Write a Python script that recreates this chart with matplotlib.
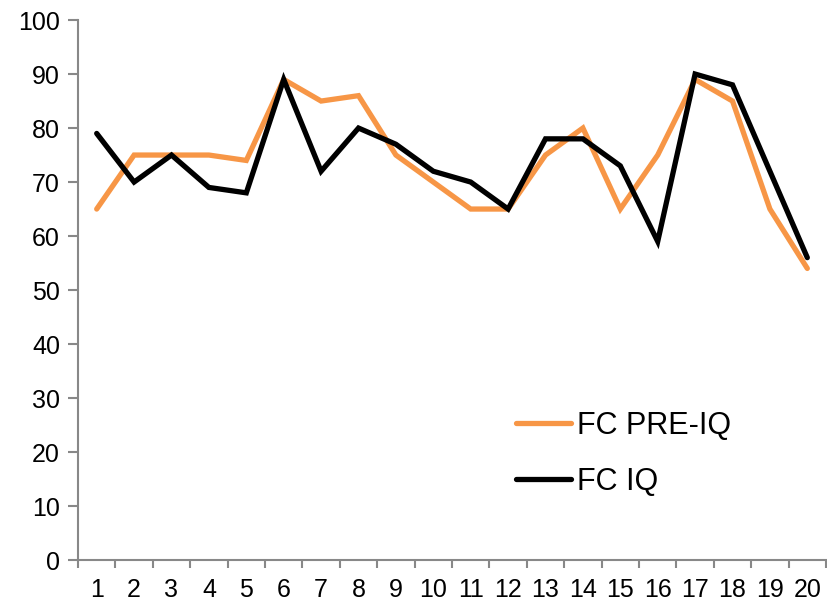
import matplotlib.pyplot as plt
import numpy as np

plt.rcParams['font.family'] = ['Liberation Sans', 'DejaVu Sans']

samples = list(range(1, 21))
fc_pre_iq = [65, 75, 75, 75, 74, 89, 85, 86, 75, 70, 65, 65, 75, 80, 65, 75, 89, 85, 65, 54]
fc_iq = [79, 70, 75, 69, 68, 89, 72, 80, 77, 72, 70, 65, 78, 78, 73, 59, 90, 88, 72, 56]

fig = plt.figure(figsize=(8.28, 6.04), dpi=100)
ax = fig.add_axes([0.0942, 0.0728, 0.9034, 0.894])

ax.plot(samples, fc_pre_iq, color='#F79646', lw=3.8, label='FC PRE-IQ',
        solid_joinstyle='miter', solid_capstyle='round')
ax.plot(samples, fc_iq, color='black', lw=3.8, label='FC IQ',
        solid_joinstyle='miter', solid_capstyle='round')

ax.set_xlim(0.5, 20.5)
ax.set_ylim(0, 100)
ax.set_yticks(np.arange(0, 101, 10))
ax.set_xticks(samples)
ax.set_xticks(np.arange(0.5, 20.6, 1), minor=True)
ax.tick_params(axis='x', which='major', length=0, labelsize=18, pad=13)
ax.tick_params(axis='x', which='minor', length=6, width=1.5, color='#888888')
ax.tick_params(axis='y', length=7, width=1.5, color='#888888', labelsize=18, pad=6)

for s in ['top', 'right']:
    ax.spines[s].set_visible(False)
for s in ['left', 'bottom']:
    ax.spines[s].set_color('#888888')
    ax.spines[s].set_linewidth(1.5)

ax.legend(loc='upper left', bbox_to_anchor=(516 / 828, 1 - 411 / 604),
          bbox_transform=fig.transFigure, frameon=False, fontsize=22,
          borderpad=0, borderaxespad=0,
          handlelength=1.8, handletextpad=0.2, labelspacing=0.85)

fig.savefig('out.png', dpi=100)
